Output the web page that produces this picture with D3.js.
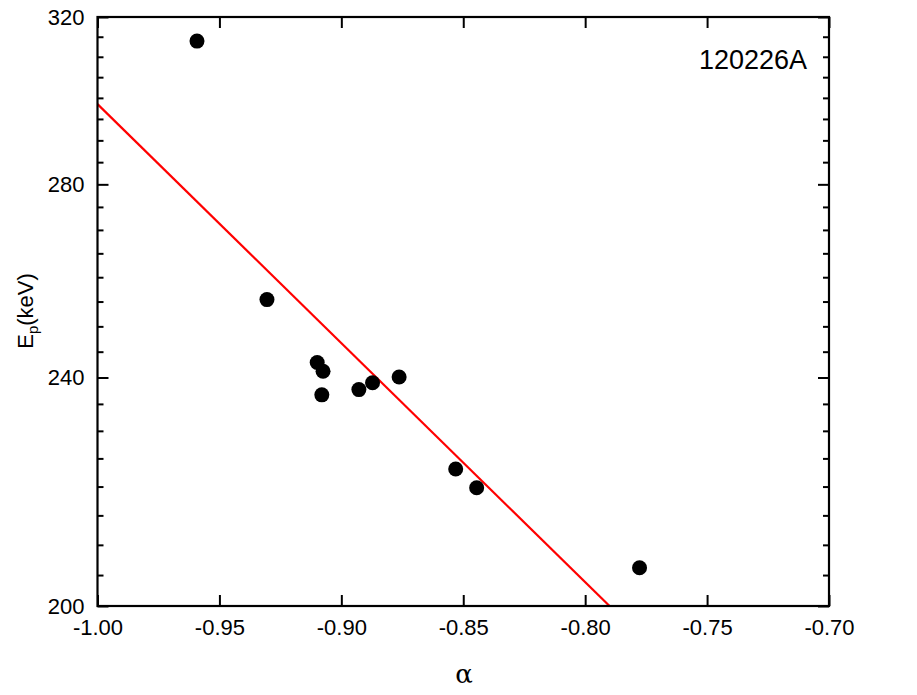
<!DOCTYPE html>
<html><head><meta charset="utf-8">
<script src="https://cdn.jsdelivr.net/npm/d3@7"></script>
<style>body{margin:0;background:#fff}svg{display:block}</style>
</head><body>
<svg id="c" width="917" height="695"></svg>
<script>
const alphaVals = [-0.9592, -0.9305, -0.9099, -0.9075, -0.9080, -0.8928, -0.8872, -0.8763, -0.8531, -0.8445, -0.7777];
const epVals    = [313.9, 255.4, 242.9, 241.2, 236.7, 237.7, 239.0, 240.1, 223.1, 219.8, 206.2];
const fitAlpha = [-1.00, -0.79];
const fitEp    = [298.5, 200.0];
const xTicks = [-1.00, -0.95, -0.90, -0.85, -0.80, -0.75, -0.70];
const yTicks = [200, 240, 280, 320];
const yMinor = d3.range(205, 320, 5).filter(v => v % 40 !== 0);
const label = "120226A";

const svg = d3.select("#c");
const L = 97.5, R = 829, T = 17, B = 606;
const x = d3.scaleLinear().domain([-1.0, -0.70]).range([L, R]);
const y = d3.scaleLog().domain([200, 320]).range([B, T]);
const font = "Liberation Sans, Arial, sans-serif";

const defs = svg.append("defs");
defs.append("clipPath").attr("id","clip").append("rect")
  .attr("x", L).attr("y", T).attr("width", R-L).attr("height", B-T);

// fit line
const fit = fitAlpha.map((a,i)=>({a, e: fitEp[i]}));
svg.append("path").datum(fit)
  .attr("clip-path","url(#clip)")
  .attr("d", d3.line().x(d=>x(d.a)).y(d=>y(d.e)))
  .attr("fill","none").attr("stroke","#ff0000").attr("stroke-width",2.2);

// points
svg.append("g").selectAll("circle").data(alphaVals.map((a,i)=>({a, e: epVals[i]})))
  .join("circle").attr("cx", d=>x(d.a)).attr("cy", d=>y(d.e)).attr("r", 7.5).attr("fill","#000");

function styleAxis(g){
  g.select(".domain").remove();
  g.selectAll(".tick line").attr("stroke","#000").attr("stroke-width",2);
  g.selectAll(".tick text").attr("font-family", font).attr("font-size", 22).attr("fill","#000");
}
const fmtX = d => d.toFixed(2);
// bottom
const gb = svg.append("g").attr("transform",`translate(0,${B})`)
  .call(d3.axisBottom(x).tickValues(xTicks).tickSize(-11).tickPadding(13).tickFormat(fmtX));
styleAxis(gb);
// top
const gt = svg.append("g").attr("transform",`translate(0,${T})`)
  .call(d3.axisTop(x).tickValues(xTicks).tickSize(-11).tickFormat(""));
styleAxis(gt);
// left major
const gl = svg.append("g").attr("transform",`translate(${L},0)`)
  .call(d3.axisLeft(y).tickValues(yTicks).tickSize(-11).tickPadding(13).tickFormat(d3.format("d")));
styleAxis(gl);
const glm = svg.append("g").attr("transform",`translate(${L},0)`)
  .call(d3.axisLeft(y).tickValues(yMinor).tickSize(-6).tickFormat(""));
styleAxis(glm);
// right
const gr = svg.append("g").attr("transform",`translate(${R},0)`)
  .call(d3.axisRight(y).tickValues(yTicks).tickSize(-11).tickFormat(""));
styleAxis(gr);
const grm = svg.append("g").attr("transform",`translate(${R},0)`)
  .call(d3.axisRight(y).tickValues(yMinor).tickSize(-6).tickFormat(""));
styleAxis(grm);

// frame
svg.append("rect").attr("x",L).attr("y",T).attr("width",R-L).attr("height",B-T)
  .attr("fill","none").attr("stroke","#000").attr("stroke-width",2.2);

// axis titles
svg.append("text").attr("x", 464).attr("y", 683).attr("text-anchor","middle")
  .attr("font-family","DejaVu Serif, Liberation Serif, serif").attr("font-size",26).text("α");
const yl = svg.append("text").attr("transform","translate(33,311) rotate(-90)")
  .attr("text-anchor","middle").attr("font-family",font).attr("font-size",22);
yl.append("tspan").text("E");
yl.append("tspan").attr("font-size",15).attr("dy",5).text("p");
yl.append("tspan").attr("dy",-5).text("(keV)");

svg.append("text").attr("x", 699).attr("y", 69).attr("font-family",font).attr("font-size",27).text(label);
</script>
</body></html>
